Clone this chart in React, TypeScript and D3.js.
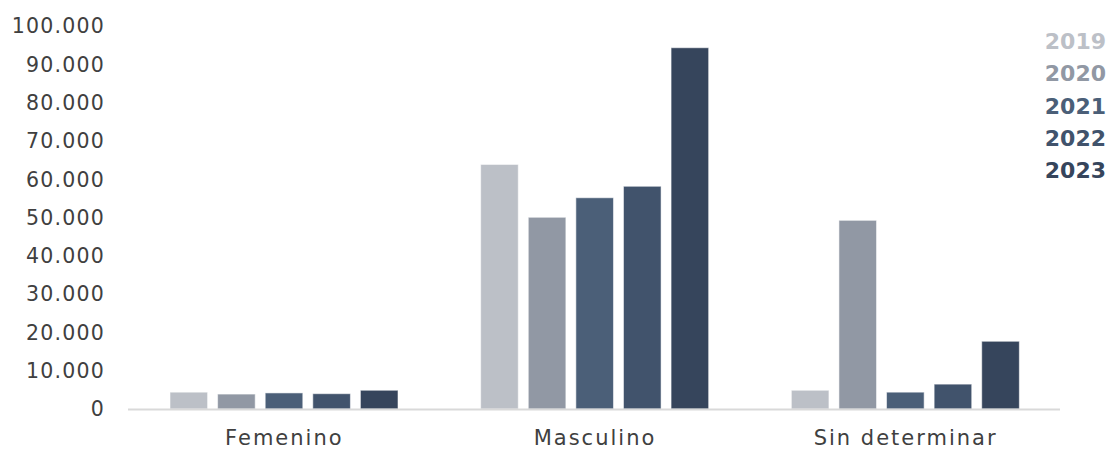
import React from "react";
import * as d3 from "d3";

const categories = ["Femenino", "Masculino", "Sin determinar"];
const years = ["2019", "2020", "2021", "2022", "2023"];
const values2019 = [4400, 63900, 4900];
const values2020 = [3900, 50100, 49300];
const values2021 = [4200, 55200, 4400];
const values2022 = [4000, 58200, 6500];
const values2023 = [4900, 94400, 17700];
const series = [values2019, values2020, values2021, values2022, values2023];
const colors = ["#bcc0c7", "#9198a4", "#4b5f78", "#41536c", "#36455c"];
const yTicks = [0, 10000, 20000, 30000, 40000, 50000, 60000, 70000, 80000, 90000, 100000];

const W = 1111;
const H = 451;
const FONT = "'DejaVu Sans', sans-serif";

export default function App() {
  const x = d3.scaleBand<string>().domain(categories).range([128, 1060]).padding(0);
  const xi = d3
    .scaleBand<string>()
    .domain(years)
    .range([42, 270])
    .paddingInner(0.21)
    .paddingOuter(0);
  const y = d3.scaleLinear().domain([0, 100000]).range([409, 26.3]);
  const fmt = (v: number) => d3.format(",")(v).replace(/,/g, ".");

  return (
    <svg
      width={W}
      height={H}
      style={{ position: "absolute", left: 0, top: 0, background: "#fff" }}
      fontFamily={FONT}
    >
      <rect x={0} y={0} width={W} height={H} fill="#fff" />
      {yTicks.map((t) => (
        <text
          key={t}
          x={105}
          y={y(t)}
          dy="0.35em"
          textAnchor="end"
          fontSize={20.5}
          letterSpacing={1.2}
          fill="#404040"
        >
          {fmt(t)}
        </text>
      ))}
      {categories.map((c, ci) =>
        series.map((s, si) => {
          const x0 = (x(c) as number) + (xi(years[si]) as number);
          const yv = y(s[ci]);
          return (
            <rect
              key={c + si}
              x={x0}
              y={yv}
              width={xi.bandwidth()}
              height={y(0) - yv}
              fill={colors[si]}
              stroke="#ffffff"
              strokeOpacity={0.55}
              strokeWidth={1}
            />
          );
        })
      )}
      <line x1={128} x2={1060} y1={409.5} y2={409.5} stroke="#d9d9d9" strokeWidth={2} />
      {categories.map((c) => (
        <text
          key={c}
          x={(x(c) as number) + x.bandwidth() / 2 + 1}
          y={437.5}
          dy="0.35em"
          textAnchor="middle"
          fontSize={21}
          letterSpacing={2}
          fill="#404040"
        >
          {c}
        </text>
      ))}
      {years.map((yr, i) => (
        <text
          key={yr}
          x={1106}
          y={41 + i * 32.4}
          dy="0.35em"
          textAnchor="end"
          fontSize={22}
          fontWeight="bold"
          fill={colors[i]}
        >
          {yr}
        </text>
      ))}
    </svg>
  );
}
